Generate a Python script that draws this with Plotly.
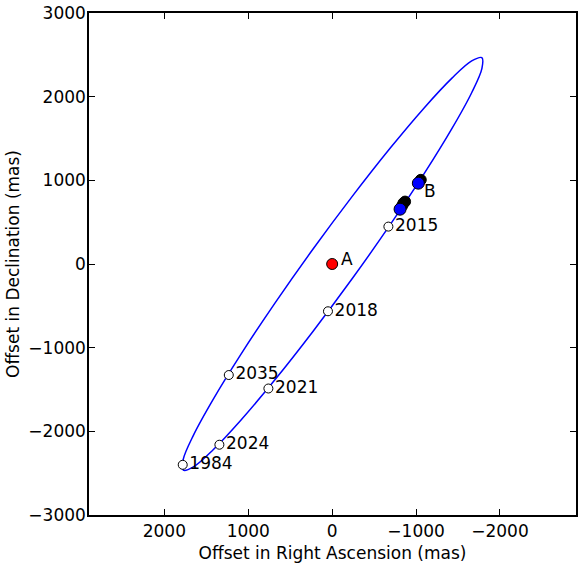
import plotly.graph_objects as go

# Apparent orbit of B around A (mas)
orbit_ra = [-1784, -1785, -1664, -1430, -1100, -694, -242, 227, 680, 1086,
            1418, 1653, 1774, 1775, 1654, 1420, 1090, 684, 232, -237,
            -690, -1096, -1428, -1663, -1784]
orbit_dec = [2466, 2338, 2050, 1623, 1085, 473, -171, -803, -1381, -1864,
             -2220, -2425, -2464, -2336, -2048, -1621, -1083, -471, 173, 805,
             1383, 1866, 2222, 2427, 2466]

# Predicted positions at given epochs
epoch_labels = ["2015", "2018", "2021", "2024", "1984", "2035"]
epoch_ra = [-670, 50, 760, 1344, 1781, 1232]
epoch_dec = [447, -565, -1488, -2160, -2400, -1327]

# Measured positions of B
obs_ra = [-1056, -869, -849, -834]
obs_dec = [1006, 746, 727, 695]
fit_ra = [-1027, -809]
fit_dec = [966, 655]

primary_ra = [0]
primary_dec = [0]

FONT = dict(family="DejaVu Sans", size=17, color="black")

fig = go.Figure()

fig.add_trace(go.Scatter(
    x=orbit_ra, y=orbit_dec,
    mode="lines",
    line=dict(color="#0000ff", width=1.5, shape="spline", smoothing=1),
    showlegend=False, hoverinfo="skip",
))
fig.add_trace(go.Scatter(
    x=obs_ra, y=obs_dec,
    mode="markers",
    marker=dict(color="black", size=11, line=dict(color="black", width=1)),
    showlegend=False,
))
fig.add_trace(go.Scatter(
    x=fit_ra, y=fit_dec,
    mode="markers",
    marker=dict(color="#0000ff", size=12, line=dict(color="black", width=1)),
    showlegend=False,
))
fig.add_trace(go.Scatter(
    x=epoch_ra, y=epoch_dec,
    mode="markers+text",
    text=epoch_labels,
    textposition="middle right",
    textfont=FONT,
    marker=dict(color="white", size=9, line=dict(color="black", width=1)),
    showlegend=False,
))
fig.add_trace(go.Scatter(
    x=primary_ra, y=primary_dec,
    mode="markers",
    marker=dict(color="#ff0000", size=11, line=dict(color="black", width=1)),
    showlegend=False,
))

# component labels
fig.add_annotation(x=primary_ra[0], y=primary_dec[0], text="A", showarrow=False,
                   xanchor="left", yanchor="middle", xshift=7, yshift=5, font=FONT)
fig.add_annotation(x=fit_ra[0], y=fit_dec[0], text="B", showarrow=False,
                   xanchor="left", yanchor="middle", xshift=4, yshift=-8, font=FONT)

axis_style = dict(
    showline=True, linecolor="black", linewidth=1.5, mirror="ticks",
    ticks="inside", ticklen=6, tickwidth=1, tickcolor="black",
    showgrid=False, zeroline=False, automargin=False,
    tickfont=FONT, title_font=FONT,
)

fig.update_layout(
    width=581, height=567,
    margin=dict(l=89, r=5, t=13, b=52),
    paper_bgcolor="white",
    plot_bgcolor="white",
    font=FONT,
    xaxis=dict(axis_style, range=[2898, -2906], tickvals=[2000, 1000, 0, -1000, -2000],
               title=dict(text="Offset in Right Ascension (mas)", standoff=7)),
    yaxis=dict(axis_style, range=[-3000, 3000], dtick=1000, ticklabelstandoff=-2,
               title=dict(text="Offset in Declination (mas)", standoff=4)),
)

# page body has a default 8px margin; drop it so the figure sits at the corner
fig.write_html("out.html", config={"displayModeBar": False},
               post_script="document.body.style.margin='0';")
